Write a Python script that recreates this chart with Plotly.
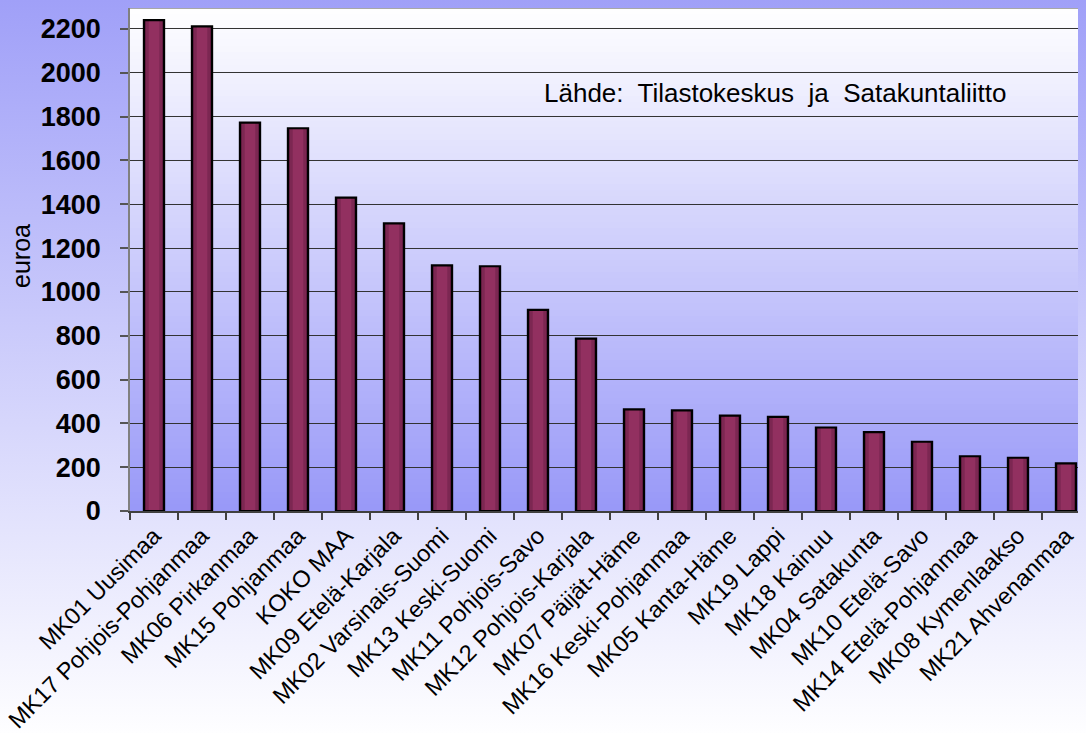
import plotly.graph_objects as go

categories = [
    "MK01 Uusimaa", "MK17 Pohjois-Pohjanmaa", "MK06 Pirkanmaa", "MK15 Pohjanmaa",
    "KOKO MAA", "MK09 Etelä-Karjala", "MK02 Varsinais-Suomi", "MK13 Keski-Suomi",
    "MK11 Pohjois-Savo", "MK12 Pohjois-Karjala", "MK07 Päijät-Häme",
    "MK16 Keski-Pohjanmaa", "MK05 Kanta-Häme", "MK19 Lappi", "MK18 Kainuu",
    "MK04 Satakunta", "MK10 Etelä-Savo", "MK14 Etelä-Pohjanmaa",
    "MK08 Kymenlaakso", "MK21 Ahvenanmaa",
]
values = [2240, 2212, 1773, 1747, 1430, 1313, 1121, 1117, 918, 787,
          464, 459, 435, 430, 381, 360, 316, 250, 243, 217]
y_ticks = list(range(0, 2201, 200))
source_text = "Lähde:\u00a0 Tilastokeskus\u00a0 ja\u00a0 Satakuntaliitto"
y_title = "euroa"

# page has an 8px body margin: screen pixel = figure pixel + 8
OFF = 8
W, H = 1086, 733
L, T, B = 130 - OFF, 0, H - (511 - OFF)
plot_h = H - T - B
plot_w = W - L

def py(screen_y):
    return (H - B - (screen_y - OFF)) / plot_h

def px(screen_x):
    return (screen_x - OFF - L) / plot_w

def lerp(c1, c2, f):
    return "rgb(%d,%d,%d)" % tuple(round(a + (b - a) * f) for a, b in zip(c1, c2))

TOP_C, BOT_C = (160, 160, 248), (255, 255, 255)
shapes = []
# plot area: white at top -> purple at bottom
M = 80
for i in range(M):
    f0 = i / M
    f1 = min(1.0, (i + 1) / M + 0.004)
    shapes.append(dict(type="rect", xref="paper", yref="paper",
                       x0=0, x1=1, y0=1 - f1, y1=1 - f0,
                       fillcolor=lerp((255, 255, 255), (152, 152, 248), (i + 0.5) / M),
                       line=dict(width=0), layer="below"))
# top border of plot area
shapes.append(dict(type="line", xref="paper", yref="paper", x0=0, x1=1, y0=1, y1=1,
                   line=dict(color="#8a8a8a", width=1.5), layer="below"))

fig = go.Figure()
fig.add_trace(go.Bar(x=categories, y=values, width=0.42,
                     marker=dict(color="#5e1a3e", line=dict(width=0)), hoverinfo="skip"))
fig.add_trace(go.Bar(x=categories, y=values, width=0.34,
                     marker=dict(color="#7c2752", line=dict(width=0)), hoverinfo="skip"))
fig.add_trace(go.Bar(x=categories, y=values, width=0.22,
                     marker=dict(color="#923060", line=dict(width=0)), hoverinfo="skip"))
fig.add_trace(go.Bar(x=categories, y=values, width=0.42,
                     marker=dict(color="rgba(0,0,0,0)", line=dict(color="#000000", width=2.2))))

fig.update_layout(
    width=W, height=H,
    margin=dict(l=L, r=0, t=T, b=B, autoexpand=False),
    barmode="overlay",
    showlegend=False,
    paper_bgcolor="rgba(0,0,0,0)",
    plot_bgcolor="rgba(0,0,0,0)",
    font=dict(family="Liberation Sans, Arial, sans-serif", color="#000000"),
    shapes=shapes,
    xaxis=dict(
        type="category",
        range=[-0.5, -0.5 + plot_w / 48.0],
        tickangle=-45,
        tickfont=dict(size=23.5, family="Liberation Sans, Arial, sans-serif", color="#000000"),
        showline=True, linecolor="#404040", linewidth=1.5,
        ticks="outside", ticklen=7, tickcolor="#404040", tickwidth=1.5,
        tickson="boundaries",
        showgrid=False, zeroline=False, automargin=False,
    ),
    yaxis=dict(
        range=[0, (511 - OFF) / 43.82 * 200],
        tickvals=y_ticks,
        tickfont=dict(size=27, family="Liberation Sans, Arial, sans-serif", color="#000000",
                      weight="bold"),
        showline=True, linecolor="#808080", linewidth=1.5,
        ticks="outside", ticklen=8, tickcolor="#555555", tickwidth=1.5,
        ticklabelstandoff=14,
        showgrid=True, gridcolor="#333333", gridwidth=1.3,
        zeroline=False, automargin=False,
    ),
    annotations=[
        dict(text=source_text, xref="paper", yref="paper",
             x=px(542), y=py(93), xanchor="left", yanchor="middle",
             showarrow=False, font=dict(size=26, color="#000000",
                                        family="Liberation Sans, Arial, sans-serif")),
        dict(text=y_title, xref="paper", yref="paper",
             x=px(21), y=py(256), xanchor="center", yanchor="middle",
             textangle=-90, showarrow=False,
             font=dict(size=25, color="#000000", family="Liberation Sans, Arial, sans-serif")),
    ],
)

grad = "linear-gradient(to bottom, %s 0px, %s %dpx) no-repeat %s" % (
    lerp(TOP_C, BOT_C, 0), lerp(TOP_C, BOT_C, 1), H + OFF, lerp(TOP_C, BOT_C, 1))
page_bg = ("document.documentElement.style.background='%s';"
           "document.documentElement.style.minHeight='100%%';"
           "document.body.style.background='transparent';" % grad)

fig.write_html("out.html", post_script=page_bg)
